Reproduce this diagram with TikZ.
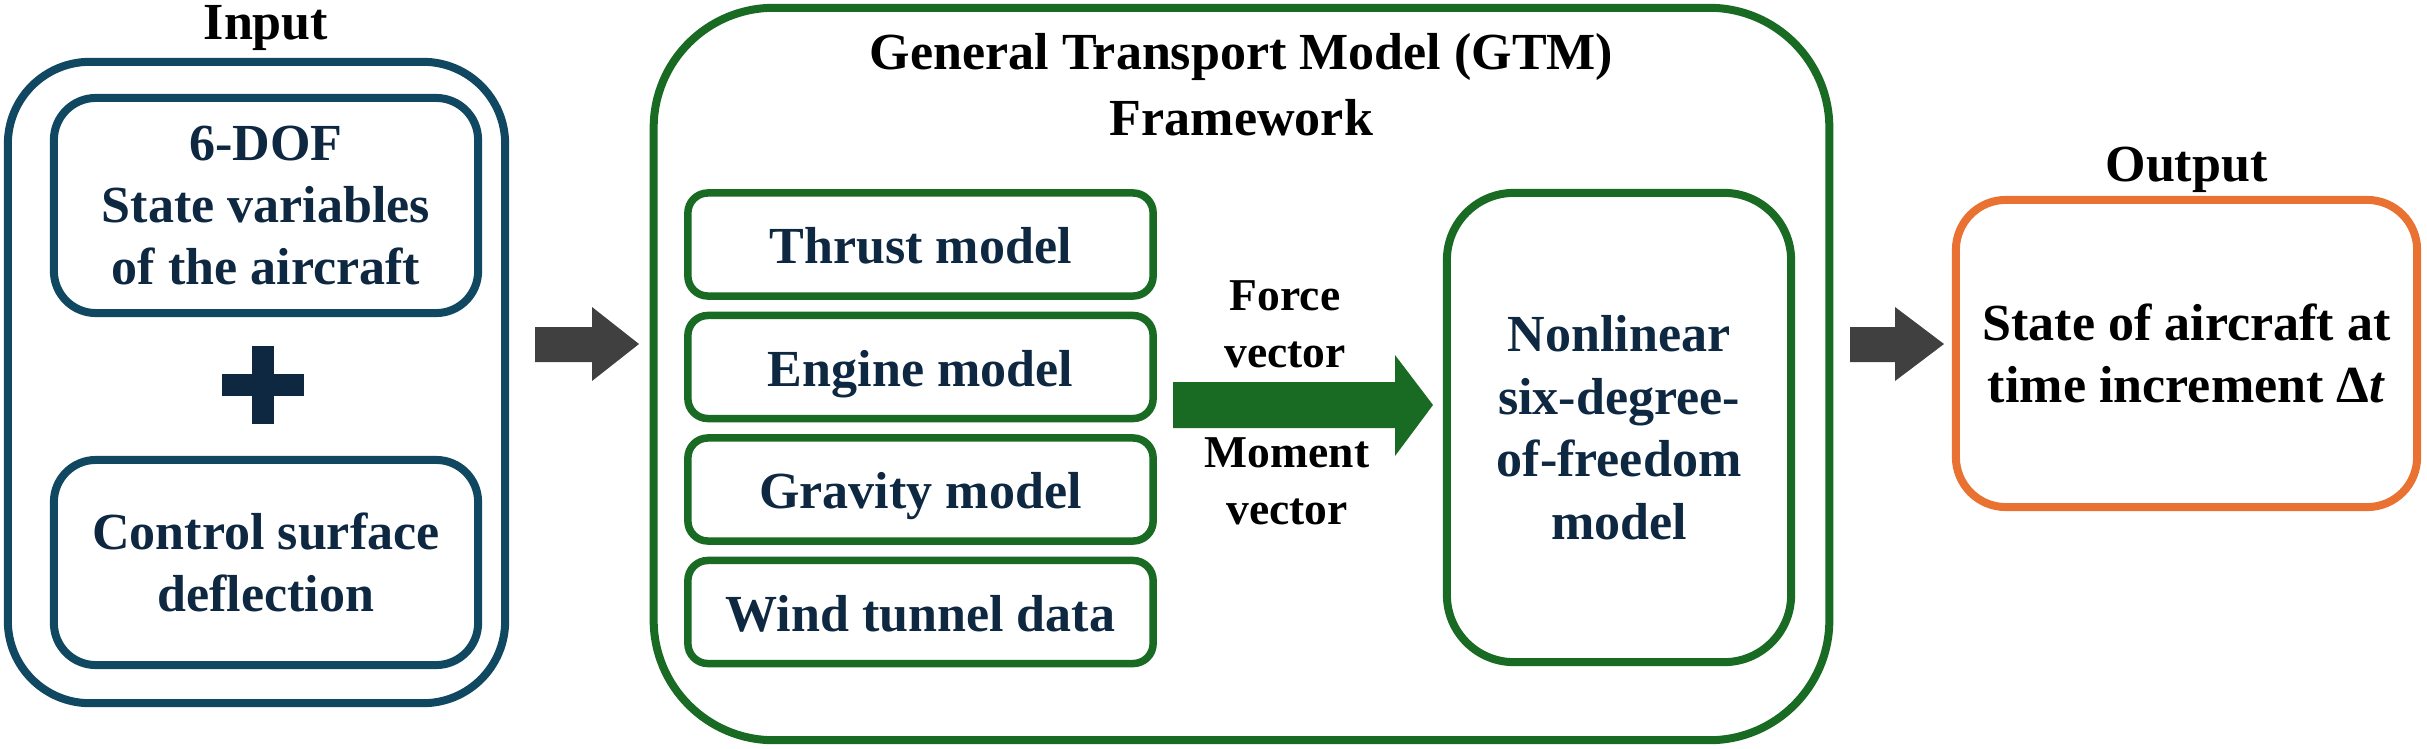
\documentclass[tikz,border=0pt]{standalone}
\usepackage{fontspec}
\setmainfont{Liberation Serif}
\usetikzlibrary{positioning}

\definecolor{inblue}{HTML}{104862}
\definecolor{navytext}{HTML}{0E2841}
\definecolor{gtmgreen}{HTML}{196B24}
\definecolor{outorange}{HTML}{E97132}
\definecolor{arrowgray}{HTML}{404040}

\begin{document}
\begin{tikzpicture}[x=0.01cm, y=-0.01cm,
  font=\fontsize{14.8pt}{17.6pt}\selectfont\bfseries,
  every node/.style={align=center, inner sep=0pt},
  inbox/.style={draw=inblue, line width=0.08cm, text=navytext},
  gtmbox/.style={draw=gtmgreen, line width=0.08cm},
  modelbox/.style={gtmbox, line width=0.075cm, rounded corners=0.2cm, text=navytext,
    minimum width=4.65cm, minimum height=1.03cm, text height=0.38cm, text depth=0pt},
  vectxt/.style={font=\fontsize{12.95pt}{16.2pt}\selectfont\bfseries}]
\useasboundingbox (0,0) rectangle (2427,748);

% input side
\node[inbox, rounded corners=0.82cm, minimum width=4.97cm, minimum height=6.41cm] (inbox) at (256.5,382.5) {};
\node[anchor=base] (inlabel) at (266,39) {Input};
\node[inbox, rounded corners=0.42cm, minimum width=4.24cm, minimum height=2.15cm] (dof) at (266,205.5)
  {6-DOF\\State variables\\of the aircraft};
\node[inbox, rounded corners=0.42cm, minimum width=4.24cm, minimum height=2.05cm] (ctrl) at (266,562.5)
  {Control surface\\deflection};
\fill[navytext] (222,374) rectangle (304,396);
\fill[navytext] (252,346) rectangle (274,424);

\fill[arrowgray] (535,327) -- (592,327) -- (592,307) -- (639,344) -- (592,381) -- (592,362) -- (535,362) -- cycle;

% GTM framework
\node[gtmbox, rounded corners=1.2cm, minimum width=11.75cm, minimum height=7.32cm] (gtm) at (1241.5,374) {};
\node[below=0.29cm of gtm.north, font=\fontsize{14.8pt}{18.8pt}\selectfont\bfseries] (gtmtitle)
  {General Transport Model (GTM)\\Framework};
\foreach \m [count=\i] in {Thrust model, Engine model, Gravity model, Wind tunnel data}
  \node[modelbox] (model\i) at (920.5,{244.5+(\i-1)*122.5}) {\m};

\fill[gtmgreen] (1173,382) -- (1395,382) -- (1395,355) -- (1433,405) -- (1395,456) -- (1395,428) -- (1173,428) -- cycle;
\node[vectxt] (forcelbl) at (1285,324) {Force\\vector};
\node[vectxt] (momentlbl) at (1287,481.5) {Moment\\vector};

\node[gtmbox, rounded corners=0.67cm, minimum width=3.44cm, minimum height=4.69cm, text=navytext,
  font=\fontsize{14.8pt}{17.8pt}\selectfont\bfseries] (sixdof) at (1619,427.5)
  {Nonlinear\\six-degree-\\of-freedom\\model};

\fill[arrowgray] (1850,327) -- (1895,327) -- (1895,307) -- (1944,344) -- (1895,381) -- (1895,362) -- (1850,362) -- cycle;

% output side
\node[draw=outorange, line width=0.08cm, rounded corners=0.5cm, minimum width=4.61cm, minimum height=3.07cm,
  font=\fontsize{14.8pt}{17.4pt}\selectfont\bfseries] (outbox) at (2186.5,353.5)
  {State of aircraft at\\time increment Δ\textit{t}};
\node[above=0.03cm of outbox] (outlabel) {Output};
\end{tikzpicture}
\end{document}
